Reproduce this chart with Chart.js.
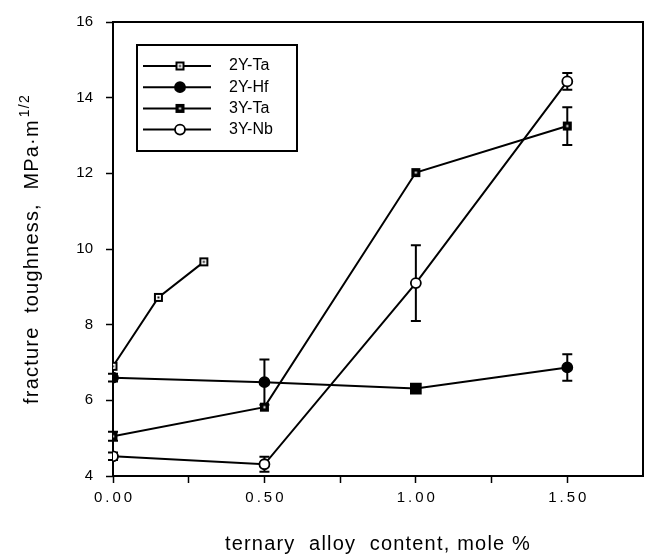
<!DOCTYPE html>
<html>
<head>
<meta charset="utf-8">
<script src="https://cdn.jsdelivr.net/npm/chart.js@4.4.1/dist/chart.umd.min.js"></script>
<style>
  body { margin: 0; background: #fff; }
  #wrap { width: 650px; height: 554px; }
</style>
</head>
<body>
<div id="wrap"><canvas id="toughChart" width="650" height="554"></canvas></div>
<script>
const seriesNames = ['2Y-Ta', '2Y-Hf', '3Y-Ta', '3Y-Nb'];

// 2Y-Ta
const ta2X = [0, 0.15, 0.30];
const ta2Y = [6.9, 8.72, 9.66];

// 2Y-Hf
const hf2X = [0, 0.5, 1.0, 1.5];
const hf2Y = [6.6, 6.48, 6.31, 6.87];
const hf2Err = [0.1, 0.6, 0, 0.35];

// 3Y-Ta
const ta3X = [0, 0.5, 1.0, 1.5];
const ta3Y = [5.05, 5.82, 12.02, 13.25];
const ta3Err = [0.12, 0, 0, 0.5];

// 3Y-Nb
const nb3X = [0, 0.5, 1.0, 1.5];
const nb3Y = [4.52, 4.31, 9.1, 14.43];
const nb3Err = [0.1, 0.2, 1.0, 0.22];

const xLabelled = [0, 0.5, 1.0, 1.5];
const xTitle = 'ternary  alloy  content, mole %';
const yTitle = 'fracture  toughness,  MPa\u00b7m';
const yTitleSup = '1/2';

const FONT = '"Liberation Sans", Arial, Helvetica, sans-serif';

function points(xs, ys) {
  return xs.map((x, i) => ({ x: x, y: ys[i] }));
}

// small bitmap markers for the square symbols
function markerCanvas(draw) {
  const c = document.createElement('canvas');
  c.width = 11; c.height = 11;
  draw(c.getContext('2d'));
  return c;
}
const dotSquare = markerCanvas(g => {
  g.fillStyle = '#fff'; g.fillRect(1, 1, 9, 9);
  g.strokeStyle = '#000'; g.lineWidth = 2; g.strokeRect(2, 2, 7, 7);
  g.fillStyle = '#000'; g.fillRect(4.5, 4.5, 2, 2);
});
const darkSquare = markerCanvas(g => {
  g.fillStyle = '#000'; g.fillRect(1, 1, 9, 9);
  g.fillStyle = '#fff'; g.fillRect(4.5, 4.5, 2, 2);
});

const errorBars = {
  id: 'errorBars',
  beforeDatasetsDraw(chart) {
    const { ctx, scales: { x, y } } = chart;
    ctx.save();
    ctx.strokeStyle = '#000';
    ctx.lineWidth = 2;
    chart.data.datasets.forEach(ds => {
      if (!ds.errors) return;
      ds.data.forEach((p, i) => {
        const e = ds.errors[i];
        if (!e) return;
        const px = x.getPixelForValue(p.x);
        const top = y.getPixelForValue(p.y + e);
        const bot = y.getPixelForValue(p.y - e);
        ctx.beginPath();
        ctx.moveTo(px, top); ctx.lineTo(px, bot);
        ctx.moveTo(px - 5, top); ctx.lineTo(px + 5, top);
        ctx.moveTo(px - 5, bot); ctx.lineTo(px + 5, bot);
        ctx.stroke();
      });
    });
    ctx.restore();
  }
};

const frame = {
  id: 'frame',
  beforeDatasetsDraw(chart) {
    const { ctx, chartArea: a } = chart;
    ctx.save();
    ctx.strokeStyle = '#000';
    ctx.lineWidth = 2;
    ctx.strokeRect(a.left, a.top, a.right - a.left, a.bottom - a.top);
    ctx.restore();
  }
};

const boxLegend = {
  id: 'boxLegend',
  afterDatasetsDraw(chart) {
    const { ctx, chartArea: a } = chart;
    const left = a.left + 24, top = a.top + 23, w = 160, h = 106;
    ctx.save();
    ctx.fillStyle = '#fff';
    ctx.fillRect(left, top, w, h);
    ctx.strokeStyle = '#000';
    ctx.lineWidth = 2;
    ctx.strokeRect(left, top, w, h);
    ctx.font = '16px ' + FONT;
    ctx.textBaseline = 'middle';
    ctx.textAlign = 'left';
    chart.data.datasets.forEach((ds, i) => {
      const ry = top + 21 + i * 21.2;
      ctx.strokeStyle = '#000';
      ctx.lineWidth = 2;
      ctx.beginPath();
      ctx.moveTo(left + 6, ry); ctx.lineTo(left + 74, ry);
      ctx.stroke();
      const style = Array.isArray(ds.pointStyle) ? ds.pointStyle[0] : ds.pointStyle;
      const radius = Array.isArray(ds.pointRadius) ? ds.pointRadius[0] : ds.pointRadius;
      ctx.fillStyle = ds.pointBackgroundColor;
      ctx.strokeStyle = ds.pointBorderColor;
      ctx.lineWidth = ds.pointBorderWidth;
      Chart.helpers.drawPoint(ctx, { pointStyle: style, radius: radius, borderWidth: ds.pointBorderWidth, rotation: 0 }, left + 43, ry);
      ctx.fillStyle = '#000';
      ctx.fillText(ds.label, left + 92, ry);
    });
    ctx.restore();
  }
};

const axisTitles = {
  id: 'axisTitles',
  afterDraw(chart) {
    const { ctx, chartArea: a } = chart;
    ctx.save();
    ctx.fillStyle = '#000';
    ctx.letterSpacing = '1.2px';
    ctx.textBaseline = 'alphabetic';
    ctx.font = '20px ' + FONT;
    ctx.textAlign = 'center';
    ctx.fillText(xTitle, (a.left + a.right) / 2, chart.height - 4);

    ctx.translate(38, (a.top + a.bottom) / 2);
    ctx.rotate(-Math.PI / 2);
    ctx.textAlign = 'left';
    const mainW = ctx.measureText(yTitle).width;
    ctx.font = '14px ' + FONT;
    const supW = ctx.measureText(yTitleSup).width;
    const start = -(mainW + 2 + supW) / 2;
    ctx.fillText(yTitleSup, start + mainW + 2, -9);
    ctx.font = '20px ' + FONT;
    ctx.fillText(yTitle, start, 0);
    ctx.restore();
  }
};

// wider letter spacing on the x tick numbers
const spacedXTicks = {
  id: 'spacedXTicks',
  beforeDraw(chart) {
    const sc = chart.scales.x;
    if (sc._spaced) return;
    const orig = sc.drawLabels.bind(sc);
    sc.drawLabels = area => {
      chart.ctx.save();
      chart.ctx.letterSpacing = '3px';
      chart.ctx.translate(1.5, 0);
      orig(area);
      chart.ctx.restore();
    };
    sc._spaced = true;
  }
};

const lineBase = {
  borderColor: '#000',
  borderWidth: 2,
  tension: 0,
  pointBorderColor: '#000',
  pointBorderWidth: 1.8
};

new Chart(document.getElementById('toughChart'), {
  type: 'line',
  data: {
    datasets: [
      Object.assign({}, lineBase, {
        label: seriesNames[0],
        data: points(ta2X, ta2Y),
        pointStyle: dotSquare,
        pointRadius: 5,
        pointBackgroundColor: '#fff'
      }),
      Object.assign({}, lineBase, {
        label: seriesNames[1],
        data: points(hf2X, hf2Y),
        errors: hf2Err,
        pointStyle: ['circle', 'circle', 'rect', 'circle'],
        pointRadius: [5, 5, 7, 5],
        pointBackgroundColor: '#000'
      }),
      Object.assign({}, lineBase, {
        label: seriesNames[2],
        data: points(ta3X, ta3Y),
        errors: ta3Err,
        pointStyle: darkSquare,
        pointRadius: 5,
        pointBackgroundColor: '#000'
      }),
      Object.assign({}, lineBase, {
        label: seriesNames[3],
        data: points(nb3X, nb3Y),
        errors: nb3Err,
        pointStyle: 'circle',
        pointRadius: 5,
        pointBackgroundColor: '#fff'
      })
    ]
  },
  options: {
    responsive: false,
    devicePixelRatio: 1,
    animation: false,
    layout: { padding: { top: 15, right: 7, left: 0, bottom: 0 } },
    plugins: {
      legend: { display: false },
      tooltip: { enabled: false }
    },
    scales: {
      x: {
        type: 'linear',
        min: 0,
        max: 1.75,
        afterFit: s => { s.height = 78; },
        border: { display: false },
        grid: {
          drawOnChartArea: false,
          tickLength: 7,
          tickWidth: 1.5,
          tickColor: c => (c.tick && c.tick.value === 1.75) ? 'rgba(0,0,0,0)' : '#000'
        },
        ticks: {
          stepSize: 0.25,
          autoSkip: false,
          maxRotation: 0,
          padding: 6,
          color: '#000',
          font: { family: FONT, size: 15 },
          callback: v => xLabelled.includes(v) ? v.toFixed(2) : ''
        }
      },
      y: {
        min: 4,
        max: 16,
        afterFit: s => { s.width = 113; },
        border: { display: false },
        grid: {
          drawOnChartArea: false,
          tickLength: 7,
          tickWidth: 1.5,
          tickColor: '#000'
        },
        ticks: {
          stepSize: 2,
          padding: 13,
          color: '#000',
          font: { family: FONT, size: 15 }
        }
      }
    }
  },
  plugins: [spacedXTicks, frame, errorBars, boxLegend, axisTitles]
});
</script>
</body>
</html>
